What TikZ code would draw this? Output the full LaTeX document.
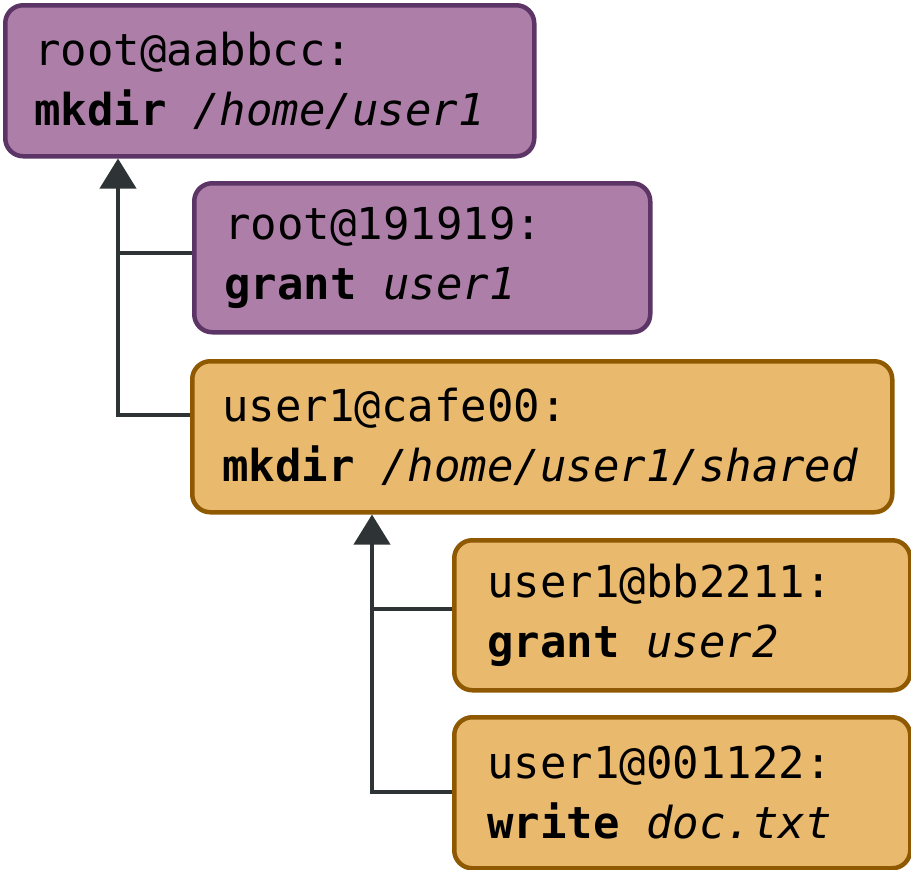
\documentclass[tikz,border=0pt]{standalone}
\usepackage{fontspec}
\setmonofont{DejaVu Sans Mono}
\usetikzlibrary{arrows.meta}
\definecolor{plumfill}{HTML}{AD7FA8}
\definecolor{plumline}{HTML}{5C3566}
\definecolor{orfill}{HTML}{E9B96E}
\definecolor{orline}{HTML}{8F5902}
\definecolor{connc}{HTML}{2E3436}
\newcommand\gap{\nobreak\hspace{0.602em}}
\begin{document}
\begin{tikzpicture}[x=1pt,y=-1pt,
  box/.style={rounded corners=18pt, line width=4.5pt, anchor=north west, align=left,
    inner ysep=0pt, font=\ttfamily\fontsize{44}{60}\selectfont},
  purplebox/.style={box, fill=plumfill, draw=plumline},
  orangebox/.style={box, fill=orfill, draw=orline},
  conn/.style={draw=connc, line width=4pt},
  tipped/.style={-{Triangle[width=36pt,length=30pt]}}
]
\useasboundingbox (0,0) rectangle (911,870);

\node[purplebox, text width=471pt, inner xsep=29pt, minimum height=151pt] (b1) at (3,3)
  {root@aabbcc:\\\textbf{mkdir}\gap\textit{/home/user1}};
\node[purplebox, text width=396pt, inner xsep=30pt, minimum height=149pt] (b2) at (192,181)
  {root@191919:\\\textbf{grant}\gap\textit{user1}};
\node[orangebox, text width=640pt, inner xsep=30pt, minimum height=151pt] (b3) at (190,359)
  {user1@cafe00:\\\textbf{mkdir}\gap\textit{/home/user1/shared}};
\node[orangebox, text width=390pt, inner xsep=33pt, minimum height=150pt] (b4) at (452,538)
  {user1@bb2211:\\\textbf{grant}\gap\textit{user2}};
\node[orangebox, text width=390pt, inner xsep=33pt, minimum height=151pt] (b5) at (452,715)
  {user1@001122:\\\textbf{write}\gap\textit{doc.txt}};

\coordinate (j1) at (118,415);
\coordinate (j1m) at (118,253);
\draw[conn,tipped] (b3.west |- j1) -- (j1) -- (j1 |- b1.south);
\draw[conn] (b2.west |- j1m) -- (j1m);
\coordinate (j2) at (372,792);
\coordinate (j2m) at (372,609);
\draw[conn,tipped] (b5.west |- j2) -- (j2) -- (j2 |- b3.south);
\draw[conn] (b4.west |- j2m) -- (j2m);
\end{tikzpicture}
\end{document}
